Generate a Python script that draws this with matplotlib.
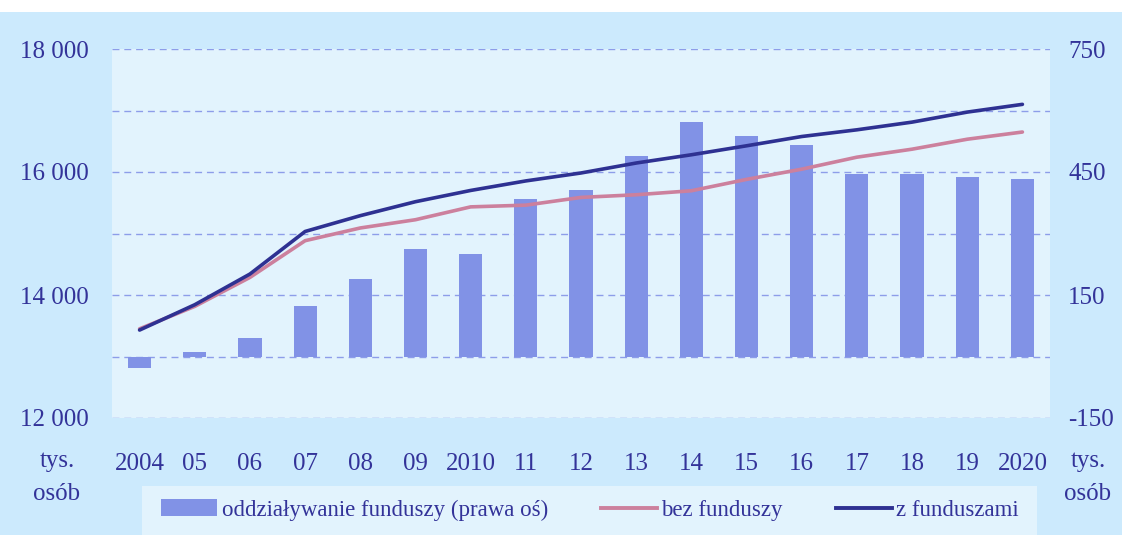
import matplotlib
matplotlib.use("Agg")
import matplotlib.pyplot as plt
from matplotlib.patches import Rectangle
from matplotlib.lines import Line2D
from matplotlib.patches import Patch
import numpy as np

years = ["2004", "05", "06", "07", "08", "09", "2010", "11", "12", "13",
         "14", "15", "16", "17", "18", "19", "2020"]
impact = [-27, 10, 46, 124, 190, 263, 249, 385, 405, 490,
          573, 537, 517, 446, 446, 439, 432]
without_funds = [13450, 13815, 14286, 14883, 15090, 15224, 15433, 15461, 15587, 15630,
                 15695, 15880, 16046, 16241, 16371, 16533, 16650]
with_funds = [13430, 13842, 14341, 15033, 15290, 15517, 15700, 15855, 15984, 16146,
              16280, 16426, 16577, 16686, 16811, 16974, 17100]
left_ticks = [12000, 14000, 16000, 18000]
left_tick_labels = ["12 000", "14 000", "16 000", "18 000"]
right_ticks = [-150, 150, 450, 750]
legend_labels = ["oddziaływanie funduszy (prawa oś)", "bez funduszy", "z funduszami"]

OUTER = "#cceafd"
INNER = "#e2f3fd"
BAR = "#8192e6"
DARK = "#2e3192"
PINK = "#cc809d"
TEXT = "#333399"
GRID = "#8d9de9"
FS = 18

plt.rcParams["font.family"] = ["Liberation Serif", "DejaVu Serif"]

W, H = 1122, 535
fig = plt.figure(figsize=(W / 100, H / 100), dpi=100, facecolor=OUTER)

# white strip at top
fig.patches.append(Rectangle((0, 1 - 12 / H), 1, 12 / H, transform=fig.transFigure,
                             facecolor="white", edgecolor="none", zorder=0))

x0, x1, ytop, ybot = 112, 1050, 49, 418
ax2 = fig.add_axes([x0 / W, 1 - ybot / H, (x1 - x0) / W, (ybot - ytop) / H])
ax = ax2.twinx()
ax2.yaxis.tick_right()
ax.yaxis.tick_left()

ax2.set_facecolor(INNER)
ax.patch.set_visible(False)
ax.set_zorder(ax2.get_zorder() + 1)

xpos = np.arange(len(years))
ax2.bar(xpos, impact, width=0.42, color=BAR, zorder=2)
ax2.set_ylim(-150, 750)
ax2.set_yticks(right_ticks)
ax2.set_yticks([0, 300, 600], minor=True)
ax2.set_yticklabels([str(v) for v in right_ticks])
ax2.grid(True, which="both", axis="y", color=GRID, linestyle=(0, (5, 3.5)), linewidth=1.0, zorder=0)
ax2.set_axisbelow(True)
ax2.tick_params(axis="y", which="both", length=0, pad=13, labelsize=FS, labelcolor=TEXT)

ax.plot(xpos, without_funds, color=PINK, linewidth=2.6, solid_capstyle="round")
ax.plot(xpos, with_funds, color=DARK, linewidth=2.6, solid_capstyle="round")
ax.set_ylim(12000, 18000)
ax.set_yticks(left_ticks)
ax.set_yticklabels(left_tick_labels)
ax.tick_params(axis="y", length=0, pad=17, labelsize=FS, labelcolor=TEXT)

ax2.set_xlim(-0.5, len(years) - 0.5)
ax2.set_xticks(xpos)
ax2.set_xticklabels(years)
ax2.tick_params(axis="x", length=0, pad=25, labelsize=FS, labelcolor=TEXT)
ax.tick_params(axis="x", length=0)

for a in (ax, ax2):
    for s in a.spines.values():
        s.set_visible(False)

# unit labels
for xc in (57, 1088):
    fig.text(xc / W, 1 - 461 / H, "tys.", ha="center", va="center", fontsize=FS, color=TEXT)
    fig.text(xc / W, 1 - 494 / H, "osób", ha="center", va="center", fontsize=FS, color=TEXT)

# legend box
lx0, lx1, ly0, ly1 = 142, 1037, 486, 535
fig.patches.append(Rectangle((lx0 / W, 1 - ly1 / H), (lx1 - lx0) / W, (ly1 - ly0) / H,
                             transform=fig.transFigure, facecolor=INNER, edgecolor="none", zorder=1))
handles = [Patch(facecolor=BAR, edgecolor="none"),
           Line2D([], [], color=PINK, linewidth=2.8),
           Line2D([], [], color=DARK, linewidth=2.8)]
leg = fig.legend(handles, legend_labels, loc="center", bbox_to_anchor=(590 / W, 1 - 510 / H),
                 ncol=3, frameon=False, fontsize=16.5, labelcolor=TEXT,
                 handlelength=2.45, handleheight=0.75, handletextpad=0.2, columnspacing=2.3)

fig.savefig("out.png", dpi=100, facecolor=OUTER)
